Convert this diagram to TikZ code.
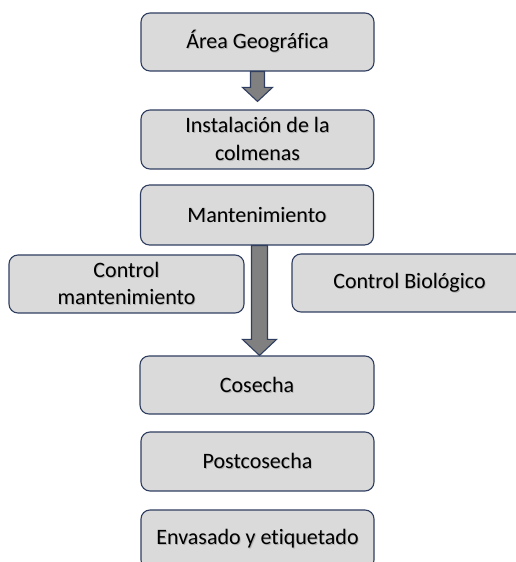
\documentclass[tikz,border=0pt]{standalone}
\usepackage{fontspec}
\setmainfont{Carlito}[Ligatures={NoCommon}]
\usetikzlibrary{calc}
\definecolor{boxfill}{RGB}{218,218,218}
\definecolor{boxline}{RGB}{47,62,96}
\definecolor{arrfill}{RGB}{128,128,128}
\definecolor{txtshadow}{RGB}{178,178,178}
\newcommand\shd[1]{\leavevmode\rlap{\kern0.9pt\raisebox{-0.9pt}{\textcolor{txtshadow}{#1}}}#1}
\tikzset{
  stagebox/.style={draw=boxline, fill=boxfill, line width=1.1pt, rounded corners=9pt,
    inner sep=0pt, align=center, font=\fontsize{22}{27.5}\selectfont},
  blockarrow/.style={draw=boxline, fill=arrfill, line width=1.1pt, line join=miter}
}
% #1 start coordinate, #2 tip coordinate, #3 shaft half width, #4 head half width, #5 head length
\newcommand\blkarrow[5]{%
  \draw[blockarrow] ($(#1)+(-#3,0)$) -- ($(#2)+(-#3,#5)$) -- ($(#2)+(-#4,#5)$) -- (#2)
    -- ($(#2)+(#4,#5)$) -- ($(#2)+(#3,#5)$) -- ($(#1)+(#3,0)$) -- cycle;}
\begin{document}
\begin{tikzpicture}[x=1pt,y=1pt]
\useasboundingbox (0,0) rectangle (516,562);
\clip (0,0) rectangle (516,562);
\node[stagebox, minimum width=233pt, minimum height=58pt] (A) at (257.5,520) {\shd{Área Geográfica}};
\node[stagebox, minimum width=233pt, minimum height=59pt] (B) at (257.5,422.5) {\shd{Instalación de la}\\\shd{colmenas}};
\node[stagebox, minimum width=233pt, minimum height=60pt] (C) at (257,347) {\shd{Mantenimiento}};
\node[stagebox, minimum width=235pt, minimum height=58pt] (D) at (126.5,278) {\shd{Control}\\\shd{mantenimiento}};
\node[stagebox, minimum width=235pt, minimum height=58pt] (E) at (409.5,279) {\shd{Control Biológico}};
\node[stagebox, minimum width=234pt, minimum height=58pt] (F) at (257,177) {\shd{Cosecha}};
\node[stagebox, minimum width=233pt, minimum height=59pt] (G) at (257.5,100.5) {\shd{Postcosecha}};
\node[stagebox, minimum width=233pt, minimum height=59pt] (H) at (257.5,22.5) {\shd{Envasado y etiquetado}};
\coordinate (a1s) at (A.south);
\coordinate (a1t) at ($(B.north)+(0,8)$);
\blkarrow{a1s}{a1t}{7}{15}{14}
\coordinate (a2s) at ($(C.south)+(2.5,0)$);
\coordinate (a2t) at ($(F.north)+(2.5,0)$);
\blkarrow{a2s}{a2t}{8}{17}{16}
\end{tikzpicture}
\end{document}
